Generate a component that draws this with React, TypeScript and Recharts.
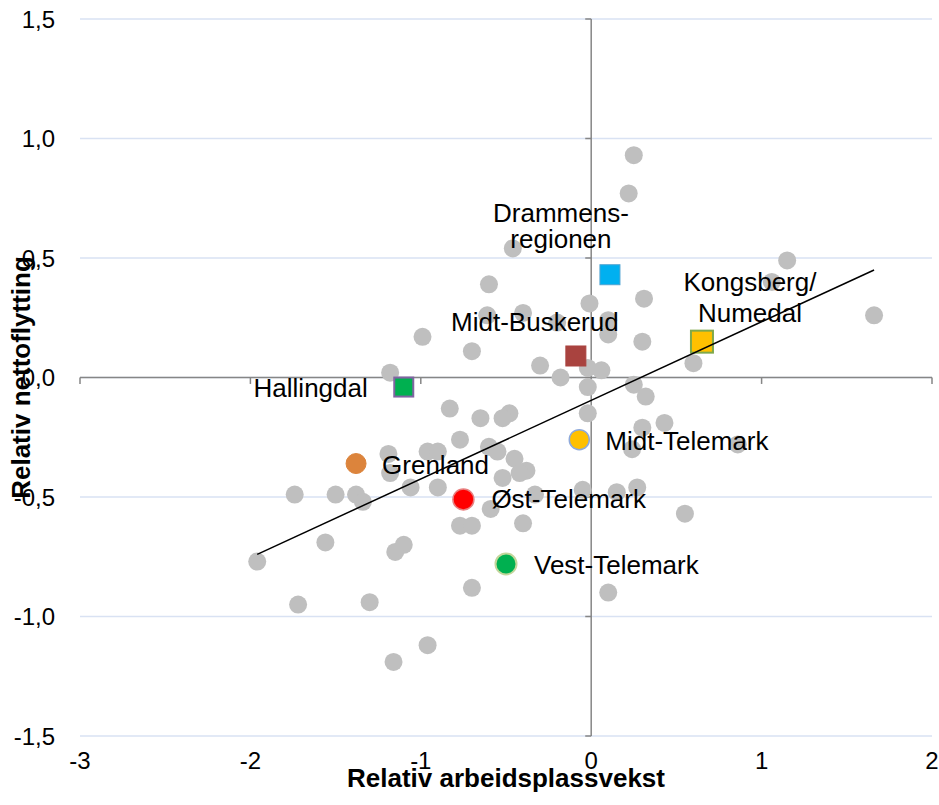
import React from "react";
import {
  ScatterChart,
  Scatter,
  XAxis,
  YAxis,
  CartesianGrid,
  ReferenceLine,
} from "recharts";

const xTicks = [-3, -2, -1, 0, 1, 2];
const yTicks = [-1.5, -1, -0.5, 0, 0.5, 1, 1.5];

// grey dots: all the other regions (x = relativ arbeidsplassvekst, y = relativ nettoflytting)
const otherRegions: [number, number][] = [
  [0.25, 0.93], [0.22, 0.77], [-0.46, 0.54], [1.15, 0.49], [1.06, 0.4],
  [-0.6, 0.39], [0.31, 0.33], [-0.01, 0.31], [1.66, 0.26], [-0.4, 0.27],
  [-0.61, 0.26], [-0.2, 0.23], [0.1, 0.24], [0.1, 0.18], [-0.99, 0.17],
  [0.3, 0.15], [-0.7, 0.11], [-0.3, 0.05], [0.6, 0.06], [-0.18, 0.0],
  [-0.02, 0.04], [0.06, 0.03], [-1.18, 0.02], [-0.02, -0.04], [0.25, -0.03],
  [0.32, -0.08], [-0.83, -0.13], [-0.02, -0.15], [-0.48, -0.15], [-0.52, -0.17],
  [-0.65, -0.17], [0.43, -0.19], [0.3, -0.21], [-0.77, -0.26], [0.24, -0.3],
  [0.86, -0.28], [-0.6, -0.29], [-0.55, -0.31], [-1.19, -0.32], [-0.96, -0.31],
  [-0.9, -0.31], [-0.45, -0.34], [-1.18, -0.4], [-0.38, -0.39], [-0.42, -0.4],
  [-0.52, -0.42], [-1.06, -0.46], [-0.9, -0.46], [-1.74, -0.49], [-1.5, -0.49],
  [-1.38, -0.49], [-1.34, -0.52], [-0.05, -0.47], [-0.33, -0.49], [0.15, -0.48],
  [0.27, -0.46], [-0.59, -0.55], [0.55, -0.57], [-0.4, -0.61], [-0.77, -0.62],
  [-0.7, -0.62], [-1.56, -0.69], [-1.1, -0.7], [-1.15, -0.73], [-1.96, -0.77],
  [-0.7, -0.88], [0.1, -0.9], [-1.72, -0.95], [-1.3, -0.94], [-0.96, -1.12],
  [-1.16, -1.19],
];

const regionNames = [
  "Drammensregionen",
  "Kongsberg/Numedal",
  "Midt-Buskerud",
  "Hallingdal",
  "Grenland",
  "Øst-Telemark",
  "Midt-Telemark",
  "Vest-Telemark",
];
const regionLabels = [
  ["Drammens-", "regionen"],
  ["Kongsberg/", "Numedal"],
  ["Midt-Buskerud"],
  ["Hallingdal"],
  ["Grenland"],
  ["Øst-Telemark"],
  ["Midt-Telemark"],
  ["Vest-Telemark"],
];
const regionX = [0.11, 0.65, -0.09, -1.1, -1.38, -0.75, -0.07, -0.5];
const regionY = [0.43, 0.15, 0.09, -0.04, -0.36, -0.51, -0.26, -0.78];

// linear trend line end points
const trendX = [-1.96, 1.66];
const trendY = [-0.74, 0.45];

const FONT = "'Liberation Sans', Arial, sans-serif";

const regionStyle: Record<string, any> = {
  Drammensregionen: { kind: "square", size: 20, fill: "#00B0F0", stroke: "#4FA3D1", sw: 1, dx: -49, dy: [-53, -27], anchor: "middle" },
  "Kongsberg/Numedal": { kind: "square", size: 22, fill: "#FFC000", stroke: "#7FA84A", sw: 2, dx: 48, dy: [-51, -20], anchor: "middle" },
  "Midt-Buskerud": { kind: "square", size: 20, fill: "#A9433F", stroke: "#A9433F", sw: 1, dx: -41, dy: [-25], anchor: "middle" },
  Hallingdal: { kind: "square", size: 19, fill: "#00B050", stroke: "#8064A2", sw: 2, dx: -36, dy: [10], anchor: "end" },
  Grenland: { kind: "circle", size: 20, fill: "#DC843C", stroke: "#DC843C", sw: 1, dx: 26, dy: [10], anchor: "start" },
  "Øst-Telemark": { kind: "circle", size: 21, fill: "#FF0000", stroke: "#E88080", sw: 1.5, dx: 28, dy: [9], anchor: "start" },
  "Midt-Telemark": { kind: "circle", size: 20, fill: "#FFC000", stroke: "#8EA9DB", sw: 1.5, dx: 26, dy: [10], anchor: "start" },
  "Vest-Telemark": { kind: "circle", size: 21, fill: "#00B050", stroke: "#C3D69B", sw: 2, dx: 28, dy: [10], anchor: "start" },
};

const otherData = otherRegions.map(([x, y]) => ({ x, y }));
const regionData = regionNames.map((name, i) => ({
  name,
  lines: regionLabels[i],
  x: regionX[i],
  y: regionY[i],
}));
const trendData = trendX.map((x, i) => ({ x, y: trendY[i] }));

const GreyDot = (props: any) => (
  <circle cx={props.cx} cy={props.cy} r={9} fill="#BFBFBF" />
);

const RegionMarker = (props: any) => {
  const { cx, cy, payload } = props;
  const s = regionStyle[payload.name];
  return (
    <g>
      {s.kind === "square" ? (
        <rect
          x={cx - s.size / 2}
          y={cy - s.size / 2}
          width={s.size}
          height={s.size}
          fill={s.fill}
          stroke={s.stroke}
          strokeWidth={s.sw}
        />
      ) : (
        <circle cx={cx} cy={cy} r={s.size / 2} fill={s.fill} stroke={s.stroke} strokeWidth={s.sw} />
      )}
      <text textAnchor={s.anchor} fontSize={26} fontFamily={FONT} fill="#000">
        {payload.lines.map((line: string, i: number) => (
          <tspan key={i} x={cx + s.dx} y={cy + s.dy[i]}>
            {line}
          </tspan>
        ))}
      </text>
    </g>
  );
};

const fmtY = (v: number) => v.toFixed(1).replace(".", ",");

export default function App() {
  const tick = { fontSize: 24, fontFamily: FONT, fill: "#000" };
  return (
    <div style={{ position: "absolute", left: 0, top: 0 }}>
      <ScatterChart width={939} height={805} margin={{ top: 19, right: 7, bottom: 0, left: 0 }}>
        <CartesianGrid vertical={false} stroke="#D9E2F3" strokeWidth={1.5} />
        <XAxis
          type="number"
          dataKey="x"
          domain={[-3, 2]}
          ticks={xTicks}
          axisLine={false}
          tickLine={false}
          tickSize={0}
          tickMargin={16}
          height={69}
          tick={tick}
          label={{
            content: (p: any) => (
              <text
                x={p.viewBox.x + p.viewBox.width / 2}
                y={787}
                textAnchor="middle"
                fontSize={26}
                fontWeight="bold"
                fontFamily={FONT}
                fill="#000"
              >
                Relativ arbeidsplassvekst
              </text>
            ),
          }}
        />
        <YAxis
          type="number"
          dataKey="y"
          domain={[-1.5, 1.5]}
          ticks={yTicks}
          tickFormatter={fmtY}
          axisLine={false}
          tickLine={false}
          tickSize={0}
          tickMargin={25}
          width={80}
          tick={tick}
          label={{
            content: (p: any) => {
              const cy = p.viewBox.y + p.viewBox.height / 2;
              return (
                <text
                  x={30}
                  y={cy}
                  transform={`rotate(-90 30 ${cy})`}
                  textAnchor="middle"
                  fontSize={26}
                  fontWeight="bold"
                  fontFamily={FONT}
                  fill="#000"
                >
                  Relativ nettoflytting
                </text>
              );
            },
          }}
        />
        <ReferenceLine y={0} stroke="#868686" strokeWidth={1.5} />
        <ReferenceLine x={0} stroke="#868686" strokeWidth={1.5} />
        {xTicks.map((t) => (
          <ReferenceLine
            key={"xt" + t}
            segment={[{ x: t, y: 0 }, { x: t, y: -0.027 }]}
            stroke="#868686"
            strokeWidth={1.5}
          />
        ))}
        {yTicks.map((t) => (
          <ReferenceLine
            key={"yt" + t}
            segment={[{ x: -0.035, y: t }, { x: 0, y: t }]}
            stroke="#868686"
            strokeWidth={1.5}
          />
        ))}
        <Scatter data={otherData} shape={GreyDot} isAnimationActive={false} />
        <Scatter data={regionData} shape={RegionMarker} isAnimationActive={false} />
        <Scatter
          data={trendData}
          line={{ stroke: "#000", strokeWidth: 1.5 }}
          shape={() => <g />}
          isAnimationActive={false}
        />
      </ScatterChart>
    </div>
  );
}
